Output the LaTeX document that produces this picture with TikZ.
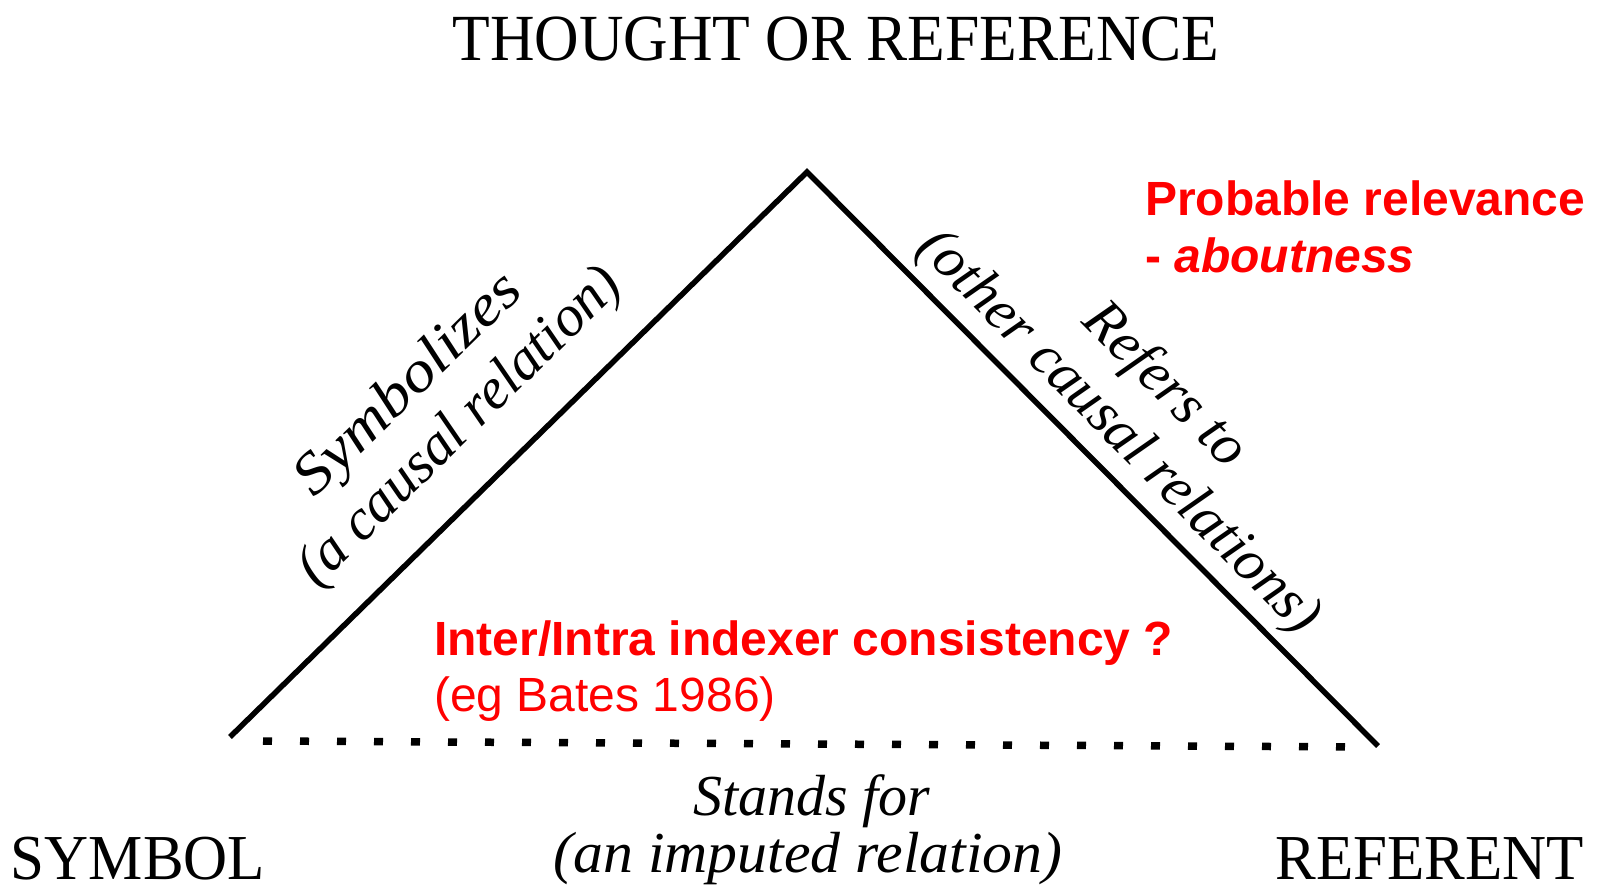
\documentclass[tikz,border=0pt]{standalone}
\usepackage{fontspec}
\setmainfont{Liberation Serif}
\newfontfamily\arialf{Liberation Sans}
\definecolor{redtxt}{RGB}{255,0,0}
\tikzset{
  edge/.style={line width=5.5pt, line join=miter},
  imputed/.style={line width=7.5pt, dash pattern=on 9pt off 28pt},
  capslabel/.style={font=\fontsize{61}{70}\selectfont, inner sep=0pt},
  slantlabel/.style={font=\fontsize{58}{64}\selectfont\itshape, inner sep=0pt},
  redbold/.style={text=redtxt, font=\arialf\fontsize{48}{56}\selectfont\bfseries, inner sep=0pt},
  redplain/.style={text=redtxt, font=\arialf\fontsize{48}{56}\selectfont, inner sep=0pt},
}
\begin{document}
\begin{tikzpicture}[x=1pt,y=-1pt]
\useasboundingbox (0,0) rectangle (1598,890);
% corners
\coordinate (apex) at (807,172);
\coordinate (lft) at (230,737);
\coordinate (rgt) at (1378,746);
\coordinate (dashA) at (263,741);
\coordinate (dashB) at (1362,747);
% edges
\draw[edge] (lft) -- (apex) -- (rgt);
\draw[imputed] (dashA) -- (dashB);
% corner labels
\node[capslabel, anchor=base] (thought) at (836,61) {\scalebox{1.01}[1.08]{THOUGHT OR REFERENCE}};
\node[capslabel, anchor=base] (symbol) at (138,879) {\scalebox{1}[1.05]{SYMBOL}};
\node[capslabel, anchor=base] (referent) at (1430,879) {\scalebox{1}[1.05]{REFERENT}};
% edge labels
\node[slantlabel, rotate=44.4] (symbolizes) at (410,386) {\scalebox{1.14}[1]{Symbolizes}};
\node[slantlabel, rotate=44.4] (causal) at (461,428) {(a causal relation)};
\node[slantlabel, rotate=-45.2] (refers) at (1164,386) {Refers to};
\node[slantlabel, rotate=-45.2] (othercausal) at (1118,433) {(other causal relations)};
\node[slantlabel, anchor=base] (stands) at (812,815) {Stands for};
\node[slantlabel, anchor=base] (imputedlbl) at (808,872) {\scalebox{1.03}[1]{(an imputed relation)}};
% red annotations
\node[redbold, anchor=base west] (probable) at (1145,216) {Probable relevance};
\node[redbold, anchor=base west] (aboutness) at (1145,273) {- \itshape aboutness};
\node[redbold, anchor=base west] (inter) at (434,655) {Inter/Intra indexer consistency ?};
\node[redplain, anchor=base west] (bates) at (434,711) {(eg Bates 1986)};
\end{tikzpicture}
\end{document}
